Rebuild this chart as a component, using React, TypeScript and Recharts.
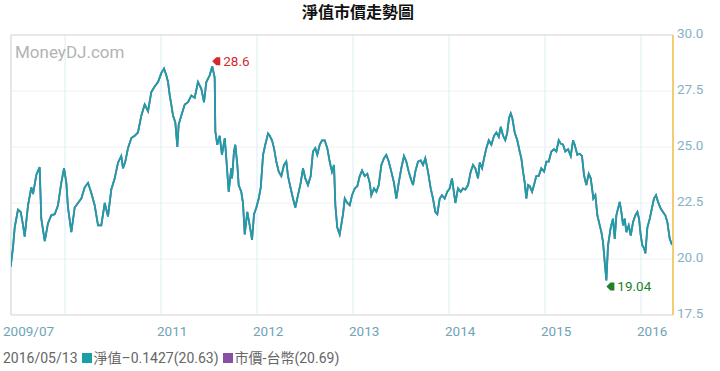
import { LineChart, Line, XAxis, YAxis, CartesianGrid, ReferenceLine, ReferenceDot } from "recharts";

// decimal-year dates and NAV values
const dates = [
  2009.434, 2009.458, 2009.476, 2009.51, 2009.539, 2009.563, 2009.58, 2009.615, 2009.649, 2009.667,
  2009.701, 2009.736, 2009.753, 2009.789, 2009.823, 2009.857, 2009.893, 2009.927, 2009.961, 2009.99,
  2010.014, 2010.031, 2010.066, 2010.101, 2010.135, 2010.17, 2010.205, 2010.24, 2010.274, 2010.309,
  2010.344, 2010.378, 2010.414, 2010.448, 2010.482, 2010.518, 2010.552, 2010.586, 2010.604, 2010.628,
  2010.656, 2010.691, 2010.726, 2010.76, 2010.795, 2010.83, 2010.865, 2010.899, 2010.934, 2010.969,
  2011.003, 2011.031, 2011.055, 2011.073, 2011.091, 2011.107, 2011.125, 2011.149, 2011.17, 2011.184,
  2011.211, 2011.247, 2011.281, 2011.316, 2011.351, 2011.385, 2011.42, 2011.448, 2011.472, 2011.507,
  2011.534, 2011.559, 2011.566, 2011.586, 2011.611, 2011.635, 2011.664, 2011.68, 2011.705, 2011.732,
  2011.74, 2011.76, 2011.774, 2011.795, 2011.809, 2011.836, 2011.854, 2011.872, 2011.899, 2011.924,
  2011.948, 2011.969, 2011.993, 2012.018, 2012.039, 2012.063, 2012.086, 2012.115, 2012.132, 2012.156,
  2012.177, 2012.201, 2012.226, 2012.253, 2012.281, 2012.305, 2012.323, 2012.351, 2012.375, 2012.399,
  2012.427, 2012.455, 2012.479, 2012.503, 2012.531, 2012.559, 2012.583, 2012.607, 2012.628, 2012.653,
  2012.677, 2012.705, 2012.732, 2012.757, 2012.781, 2012.802, 2012.816, 2012.836, 2012.861, 2012.896,
  2012.914, 2012.94, 2012.966, 2012.99, 2013.018, 2013.045, 2013.07, 2013.094, 2013.122, 2013.149,
  2013.174, 2013.191, 2013.219, 2013.243, 2013.268, 2013.295, 2013.323, 2013.347, 2013.372, 2013.399,
  2013.427, 2013.451, 2013.476, 2013.503, 2013.531, 2013.555, 2013.58, 2013.601, 2013.625, 2013.649,
  2013.677, 2013.705, 2013.729, 2013.753, 2013.781, 2013.809, 2013.833, 2013.857, 2013.878, 2013.903,
  2013.927, 2013.955, 2013.982, 2014.007, 2014.031, 2014.066, 2014.094, 2014.122, 2014.146, 2014.17,
  2014.198, 2014.226, 2014.25, 2014.274, 2014.302, 2014.32, 2014.344, 2014.365, 2014.389, 2014.414,
  2014.441, 2014.469, 2014.493, 2014.518, 2014.539, 2014.563, 2014.586, 2014.607, 2014.625, 2014.643,
  2014.659, 2014.684, 2014.711, 2014.736, 2014.753, 2014.771, 2014.789, 2014.805, 2014.823, 2014.841,
  2014.865, 2014.885, 2014.909, 2014.934, 2014.961, 2014.99, 2015.014, 2015.039, 2015.066, 2015.094,
  2015.118, 2015.143, 2015.164, 2015.188, 2015.211, 2015.24, 2015.268, 2015.292, 2015.309, 2015.336,
  2015.361, 2015.385, 2015.406, 2015.43, 2015.455, 2015.476, 2015.49, 2015.503, 2015.524, 2015.545,
  2015.57, 2015.587, 2015.604, 2015.622, 2015.639, 2015.656, 2015.684, 2015.708, 2015.726, 2015.743,
  2015.76, 2015.778, 2015.795, 2015.813, 2015.83, 2015.847, 2015.872, 2015.893, 2015.917, 2015.941,
  2015.962, 2015.979, 2015.997, 2016.014, 2016.031, 2016.045, 2016.066, 2016.091, 2016.115, 2016.135,
  2016.156, 2016.177, 2016.205, 2016.229, 2016.253, 2016.274, 2016.299, 2016.323,
];

const nav = [
  19.66, 20.5, 21.4, 22.2, 22.1, 21.5, 21.0, 22.4, 23.2, 22.9,
  23.75, 24.1, 21.8, 20.8, 21.6, 21.95, 22.0, 22.4, 23.4, 24.05,
  23.4, 22.3, 21.2, 22.3, 22.5, 22.7, 23.2, 23.4, 22.95, 22.4,
  21.5, 21.5, 22.5, 21.9, 23.1, 23.6, 24.3, 24.6, 24.05, 24.35,
  24.95, 25.4, 25.5, 25.65, 26.4, 26.9, 26.6, 27.45, 27.7, 27.9,
  28.3, 28.5, 28.2, 27.9, 27.3, 26.9, 26.4, 26.1, 25.0, 26.0,
  26.4, 26.9, 27.0, 27.3, 27.2, 27.9, 27.6, 27.0, 27.9, 28.2,
  28.6, 28.1, 25.7, 25.1, 25.5, 24.65, 25.4, 24.5, 23.0, 24.05,
  23.6, 24.8, 25.1, 24.2, 23.3, 23.0, 22.5, 21.1, 22.1, 21.5,
  20.85, 22.0, 22.3, 22.7, 23.2, 24.65, 25.1, 25.6, 25.5, 25.3,
  24.95, 24.35, 23.9, 23.7, 24.2, 24.35, 23.7, 23.15, 22.7, 22.3,
  22.85, 23.4, 24.05, 23.6, 23.3, 23.7, 24.8, 24.95, 24.65, 25.1,
  25.3, 25.3, 24.95, 24.35, 23.9, 24.2, 22.4, 21.4, 21.1, 22.0,
  22.7, 22.5, 22.4, 22.85, 23.15, 23.25, 23.7, 23.95, 23.7, 23.8,
  23.4, 22.85, 23.15, 23.0, 23.3, 24.2, 24.5, 24.65, 24.35, 23.9,
  23.4, 22.7, 23.4, 24.05, 24.6, 24.35, 23.9, 23.6, 23.3, 23.9,
  24.35, 24.4, 24.2, 24.5, 23.9, 23.15, 22.7, 22.1, 22.0, 22.7,
  22.85, 22.7, 23.0, 23.15, 23.6, 22.5, 23.15, 23.0, 23.15, 23.1,
  23.3, 23.9, 24.2, 24.05, 23.6, 24.3, 24.05, 24.5, 24.95, 25.3,
  25.1, 25.5, 25.65, 25.45, 25.9, 25.5, 25.3, 25.65, 26.3, 26.5,
  26.3, 25.65, 25.3, 24.8, 24.5, 23.9, 23.4, 22.7, 23.3, 23.25,
  23.0, 23.3, 23.7, 23.7, 24.05, 23.9, 24.35, 24.35, 24.8, 24.9,
  24.8, 25.3, 25.15, 25.1, 24.8, 24.9, 24.6, 25.3, 25.1, 24.65,
  24.7, 24.6, 23.75, 23.3, 23.8, 23.6, 23.15, 22.7, 22.85, 21.95,
  21.5, 21.2, 20.75, 19.85, 19.04, 20.6, 21.4, 21.8, 20.9, 21.95,
  22.25, 22.55, 22.1, 21.5, 21.8, 21.2, 21.5, 21.05, 21.65, 21.95,
  22.1, 21.8, 21.05, 20.6, 20.5, 20.25, 21.4, 21.8, 22.3, 22.7,
  22.85, 22.55, 22.25, 22.1, 21.95, 21.65, 20.9, 20.63,
];

const xTicks = [2009.4375, 2010, 2011, 2012, 2013, 2014, 2015, 2016];
const xTickLabels = ["2009/07", "", "2011", "2012", "2013", "2014", "2015", "2016"];
const yTicks = [17.5, 20, 22.5, 25, 27.5, 30];

const data = dates.map((d, i) => ({ d, nav: nav[i], price: nav[i] }));

const maxIdx = nav.indexOf(Math.max(...nav));
const minIdx = nav.indexOf(Math.min(...nav));

const FONT = "Roboto, 'Noto Sans CJK TC', sans-serif";

const XTick = ({ x, payload }: any) => {
  const i = xTicks.indexOf(payload.value);
  return (
    <text x={x - (i === 0 ? 8 : 4)} y={336} fontSize={13.5} fill="#6da5b8" fontFamily={FONT} textAnchor="start">
      {xTickLabels[i]}
    </text>
  );
};

const YTick = ({ y, payload }: any) => (
  <text x={677} y={y + 2.5} fontSize={13.5} fill="#86b2c2" fontFamily={FONT} textAnchor="start">
    {payload.value.toFixed(1)}
  </text>
);

const Flag = ({ cx, cy, dy, color, label }: any) => {
  const ty = cy + dy;
  return (
    <g>
      <path d={`M${cx} ${ty} L${cx + 4} ${ty - 4} L${cx + 8} ${ty - 4} L${cx + 8} ${ty + 4} L${cx + 4} ${ty + 4} Z`} fill={color} />
      <text x={cx + 11} y={ty + 4.5} fontSize={13.5} fill={color} fontFamily={FONT}>{label}</text>
    </g>
  );
};

const sq = (c: string) => (
  <span style={{ display: "inline-block", width: 10, height: 10, background: c, marginLeft: 4, marginRight: 2 }} />
);

export default function App() {
  return (
    <div style={{ position: "absolute", left: 0, top: 0, width: 720, height: 371, background: "#fff" }}>
      <div style={{ position: "absolute", left: 0, top: 1, width: 716, textAlign: "center", fontFamily: "'Noto Sans CJK TC', sans-serif", fontWeight: 700, fontSize: 16, lineHeight: "20px", color: "#111" }}>
        淨值市價走勢圖
      </div>
      <LineChart width={720} height={371} data={data} margin={{ top: 35, left: 11, right: 0, bottom: 0 }}>
        <CartesianGrid horizontal={true} vertical={false} stroke="#eef1f2" />
        <CartesianGrid horizontal={false} vertical={true} stroke="#dcedf4" />
        <text x={15} y={58} fontSize={17} fill="#b3b3b3" fontFamily={FONT}>MoneyDJ.com</text>
        <XAxis
          dataKey="d"
          type="number"
          domain={[2009.4375, 2016.333]}
          ticks={xTicks}
          interval={0}
          height={56}
          tickLine={false}
          axisLine={{ stroke: "#d9d9d9" }}
          tick={<XTick />}
          allowDataOverflow
        />
        <YAxis
          orientation="right"
          domain={[17.5, 30]}
          ticks={yTicks}
          interval={0}
          width={47}
          tickLine={false}
          axisLine={{ stroke: "#f2cd74", strokeWidth: 2 }}
          tick={<YTick />}
        />
        <ReferenceLine y={30} stroke="#d9d9d9" />
        <ReferenceLine x={2009.4375} stroke="#d9d9d9" />
        <Line dataKey="price" stroke="#8b4ea6" strokeWidth={1.8} dot={false} isAnimationActive={false} />
        <Line dataKey="nav" stroke="#1a9fa5" strokeWidth={1.8} dot={false} isAnimationActive={false} />
        <ReferenceDot
          x={dates[maxIdx]}
          y={nav[maxIdx]}
          r={0}
          shape={(p: any) => <Flag cx={p.cx} cy={p.cy} dy={-5} color="#d42a2e" label={String(nav[maxIdx])} />}
        />
        <ReferenceDot
          x={dates[minIdx]}
          y={nav[minIdx]}
          r={0}
          shape={(p: any) => <Flag cx={p.cx} cy={p.cy} dy={6} color="#23802a" label={nav[minIdx].toFixed(2)} />}
        />
      </LineChart>
      <div style={{ position: "absolute", left: 3, top: 349, fontFamily: FONT, fontSize: 14, color: "#666", whiteSpace: "nowrap", lineHeight: "18px" }}>
        2016/05/13{sq("#1a9fa5")}淨值–0.1427(20.63){sq("#8b4ea6")}市價-台幣(20.69)
      </div>
    </div>
  );
}
